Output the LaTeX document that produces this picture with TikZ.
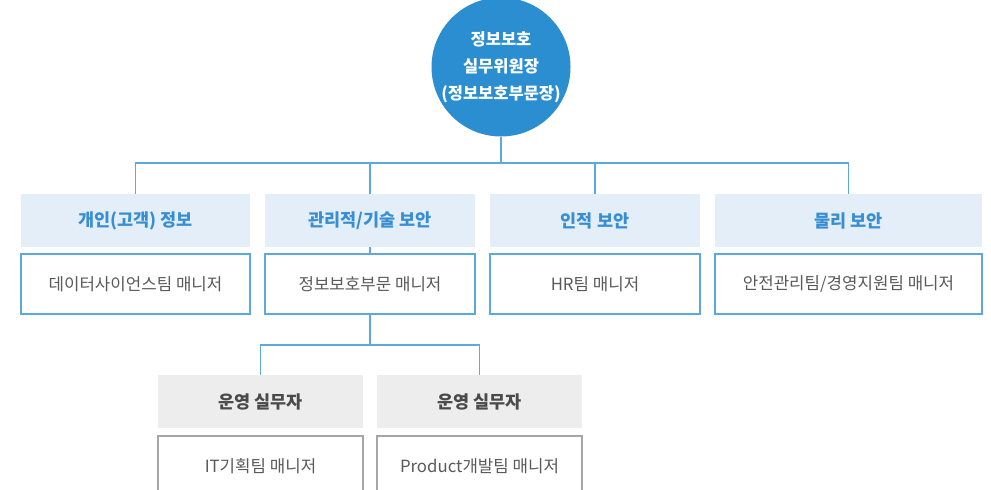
\documentclass[tikz,border=0pt]{standalone}
\usepackage{fontspec}
\setmainfont{Noto Sans CJK KR}
\definecolor{chiefblue}{HTML}{2A8ED0}
\definecolor{linkblue}{HTML}{5BA9DE}
\definecolor{hdrfill}{HTML}{E3EEF9}
\definecolor{hdrtext}{HTML}{378ED2}
\definecolor{opfill}{HTML}{EDEDED}
\definecolor{optext}{HTML}{4A4A4A}
\definecolor{boxtext}{HTML}{5A5A5A}
\definecolor{boxgray}{HTML}{A6A6A6}
\begin{document}
\begin{tikzpicture}[x=1pt,y=-1pt,
    chief/.style={circle,fill=chiefblue,minimum size=130pt,inner sep=0pt,
        text=white,font=\bfseries\fontsize{16.5}{27}\selectfont,align=center},
    hdr/.style={fill=hdrfill,minimum height=53pt,inner sep=0pt,
        text=hdrtext,font=\bfseries\fontsize{17.5}{19}\selectfont},
    mgr/.style={draw=linkblue,line width=1.2pt,fill=white,minimum height=60pt,inner sep=0pt,
        text=boxtext,font=\fontsize{16.8}{19}\selectfont},
    ophdr/.style={fill=opfill,minimum width=205pt,minimum height=53pt,inner sep=0pt,
        text=optext,font=\bfseries\fontsize{17.5}{19}\selectfont},
    opbox/.style={draw=boxgray,line width=1.2pt,fill=white,minimum width=205pt,minimum height=60pt,
        inner sep=0pt,text=boxtext,font=\fontsize{16.8}{19}\selectfont},
    link/.style={draw=linkblue,line width=1.2pt}]
        \clip (0,0) rectangle (991,490);

        % top
        \node[chief] (chief) at (501,67) {정보보호\\실무위원장\\(정보보호부문장)};
        \coordinate (bus) at (501,163);

        % 4 areas
        \node[hdr,minimum width=229pt] (hdr1) at (135.5,220.5) {개인(고객) 정보};
        \node[hdr,minimum width=210pt] (hdr2) at (370,220.5) {관리적/기술 보안};
        \node[hdr,minimum width=210pt] (hdr3) at (595,220.5) {인적 보안};
        \node[hdr,minimum width=267pt] (hdr4) at (848.5,220.5) {물리 보안};

        \node[mgr,minimum width=229pt] (mgr1) at (135.5,284) {데이터사이언스팀 매니저};
        \node[mgr,minimum width=210pt] (mgr2) at (370,284) {정보보호부문 매니저};
        \node[mgr,minimum width=210pt] (mgr3) at (595,284) {HR팀 매니저};
        \node[mgr,minimum width=267pt] (mgr4) at (848.5,284) {안전관리팀/경영지원팀 매니저};

        % operators
        \coordinate (opbus) at (370,345);
        \node[ophdr] (op1) at (260.5,401.5) {운영 실무자};
        \node[ophdr] (op2) at (479.5,401.5) {운영 실무자};
        \node[opbox] (opm1) at (260.5,466) {IT기획팀 매니저};
        \node[opbox] (opm2) at (479.5,466) {Product개발팀 매니저};

        \draw[link] (chief.south) -- (chief.south |- bus);
        \draw[link] (hdr1.north) |- (bus) -| (hdr4.north);
        \foreach \n in {hdr2,hdr3} {
            \draw[link] (\n.north) -- (\n.north |- bus);
        }
        \draw[link] (hdr2.south) -- (mgr2.north);
        \draw[link] (mgr2.south) -- (opbus);
        \draw[link] (op1.north) |- (opbus) -| (op2.north);
    \end{tikzpicture}
\end{document}
